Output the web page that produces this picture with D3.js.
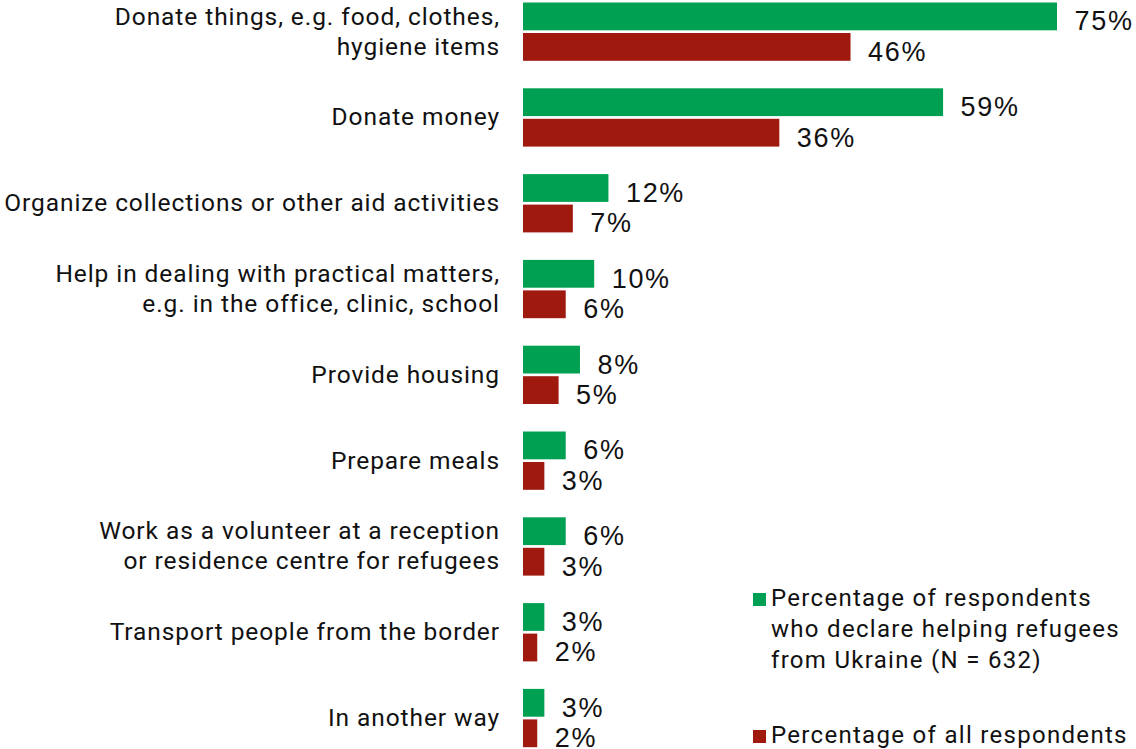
<!DOCTYPE html>
<html>
<head>
<meta charset="utf-8">
<script src="https://cdn.jsdelivr.net/npm/d3@7"></script>
<style>
  body { margin: 0; background: #fff; }
  svg { display: block; }
  .cat { font-family: Roboto, sans-serif; font-size: 24.5px; letter-spacing: 0.92px; fill: #111; }
  .val { font-family: 'Liberation Sans', Arial, sans-serif; font-size: 27px; letter-spacing: 1.7px; fill: #111; }
  .leg { font-family: Roboto, sans-serif; font-size: 24px; letter-spacing: 1.3px; fill: #111; }
</style>
</head>
<body>
<script>
// categories (multi-line labels split with \n)
const categories = [
    'Donate things, e.g. food, clothes,\nhygiene items',
    'Donate money',
    'Organize collections or other aid activities',
    'Help in dealing with practical matters,\ne.g. in the office, clinic, school',
    'Provide housing',
    'Prepare meals',
    'Work as a volunteer at a reception\nor residence centre for refugees',
    'Transport people from the border',
    'In another way',
];

// % of respondents who declare helping refugees
const helpers = [75, 59, 12, 10, 8, 6, 6, 3, 3];
// % of all respondents
const allResp = [46, 36, 7, 6, 5, 3, 3, 2, 2];

const seriesKeys = ['helpers', 'all'];
const seriesNames = [
    'Percentage of respondents\nwho declare helping refugees\nfrom Ukraine (N = 632)',
    'Percentage of all respondents',
];
const colors = ['#00a052', '#a0190f'];

const data = categories.map((c, i) => ({
    label: c,
    helpers: helpers[i],
    all: allResp[i],
}));

const svg = d3.select('body').append('svg').attr('width', 1136).attr('height', 749);

// 分组比例尺
const y0 = d3
    .scaleBand()
    .domain(d3.range(categories.length))
    .range([2.5, 747.2])
    .paddingInner(0.3205)
    .paddingOuter(0);

const y1 = d3
    .scaleBand()
    .domain(seriesKeys)
    .range([0, y0.bandwidth()])
    .paddingInner(0.0885);

const x = d3.scaleLinear().domain([0, 100]).range([523, 1235]);

const groups = svg
    .selectAll('.group')
    .data(data)
    .enter()
    .append('g')
    .attr('class', 'group')
    .attr('transform', (d, i) => `translate(0,${y0(i)})`);

// bars
groups
    .selectAll('rect')
    .data((d) => seriesKeys.map((k, j) => ({ key: k, value: d[k], color: colors[j] })))
    .enter()
    .append('rect')
    .attr('x', x(0))
    .attr('y', (d) => y1(d.key))
    .attr('width', (d) => x(d.value) - x(0))
    .attr('height', y1.bandwidth())
    .attr('fill', (d) => d.color);

// value labels
groups
    .selectAll('.val')
    .data((d) => seriesKeys.map((k) => ({ key: k, value: d[k] })))
    .enter()
    .append('text')
    .attr('class', 'val')
    .attr('x', (d) => x(d.value) + 17.5)
    .attr('y', (d) => y1(d.key) + y1.bandwidth() / 2 + 14)
    .text((d) => d.value + '%');

// category labels
groups.each(function (d) {
    const lines = d.label.split('\n');
    const cy = y0.bandwidth() / 2;
    const t = d3
        .select(this)
        .append('text')
        .attr('class', 'cat')
        .attr('text-anchor', 'end');
    lines.forEach((line, k) => {
        t.append('tspan')
            .attr('x', 500)
            .attr('y', cy + 8 + (k - (lines.length - 1) / 2) * 30)
            .text(line);
    });
});

// legend
const legendTop = [593, 730];
const legend = svg
    .selectAll('.legend')
    .data(seriesNames)
    .enter()
    .append('g')
    .attr('class', 'legend')
    .attr('transform', (d, i) => `translate(753,${legendTop[i]})`);

legend
    .append('rect')
    .attr('width', 13)
    .attr('height', 13)
    .attr('fill', (d, i) => colors[i]);

legend.each(function (d) {
    const t = d3.select(this).append('text').attr('class', 'leg');
    d.split('\n').forEach((line, k) => {
        t.append('tspan')
            .attr('x', 18)
            .attr('y', 13 + k * 31)
            .text(line);
    });
});
</script>
</body>
</html>
